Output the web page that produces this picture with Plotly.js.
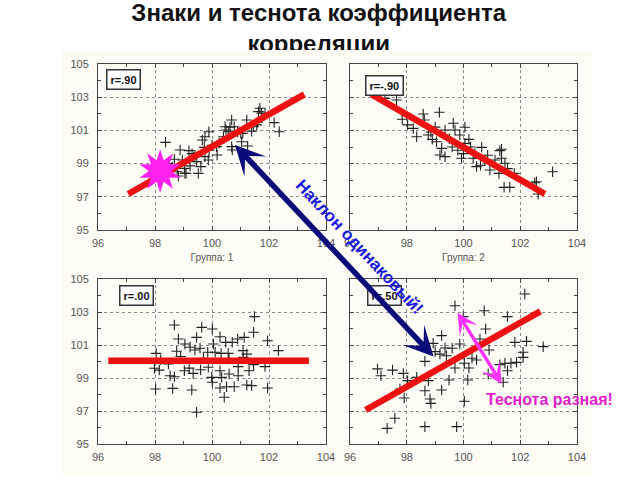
<!DOCTYPE html>
<html><head><meta charset="utf-8">
<script src="https://cdn.plot.ly/plotly-3.0.1.min.js"></script>
<style>
html,body{margin:0;padding:0;background:#fff}
#wrap{position:relative;width:640px;height:480px}
#chart{width:640px;height:480px}
#cut{position:absolute;left:200px;top:50px;width:240px;height:13px;background:#fcfcf5}
</style>
</head><body>
<div id="wrap"><div id="chart"></div><div id="cut"></div></div>
<script>
// ---- data ----
const titleText = 'Знаки и теснота коэффициента<br>корреляции';
const groupTitles = ['Группа: 1', 'Группа: 2'];
const rLabels = ['r=.90', 'r=-.90', 'r=.00', 'r=.50'];
const xTicks = [96, 98, 100, 102, 104];
const yTicks = [95, 97, 99, 101, 103, 105];

// panel 1: r = .90
const p1x = [98.37,98.88,99.19,98.68,98.96,99.36,99.46,99.23,99.03,98.82,99.05,99.52,99.61,99.75,99.87,99.73,99.66,99.75,99.89,100.16,100.25,100.18,100.46,100.57,100.69,100.78,100.69,100.71,101.04,101.01,101.25,101.22,101.45,101.63,101.74,102.18,102.36,98.18,100.40,100.63,101.08,101.39,101.57,101.86,101.68,100.49,99.09,98.78,99.40,100.00,100.90,101.60,98.60,99.90,98.45,99.30];
const p1y = [100.28,99.82,99.78,99.26,99.22,99.38,99.12,98.86,98.71,98.25,98.41,98.41,98.82,99.42,99.22,99.98,100.42,100.62,100.92,100.02,100.22,99.52,101.22,100.92,101.63,101.22,100.02,99.82,100.32,100.82,100.06,101.63,101.22,102.13,102.03,101.47,100.92,98.41,100.62,101.19,100.83,100.95,101.33,102.03,102.33,101.02,98.42,98.51,99.50,100.10,100.90,101.50,98.80,99.80,99.00,99.60];
// panel 2: r = -.90
const p2x = [97.23,97.64,97.84,98.03,98.23,98.35,98.58,98.62,99.15,98.76,98.90,98.85,99.05,99.23,99.17,99.35,99.35,99.50,99.64,99.70,99.87,99.93,99.80,100.05,100.19,100.25,100.34,100.46,100.60,100.64,100.75,100.85,100.93,101.11,101.28,101.34,101.25,101.46,101.55,101.79,101.43,101.63,102.51,102.63,103.14,99.60,100.00,100.40,99.00,100.05,101.34,102.57];
const p2y = [102.93,102.83,101.67,101.33,101.12,100.62,101.99,101.63,102.09,100.72,100.46,100.90,100.32,99.92,99.52,99.42,101.02,100.50,101.43,101.02,100.72,99.32,99.80,100.22,100.46,100.00,99.32,98.82,98.90,99.98,99.22,99.50,98.61,99.22,99.78,99.32,98.41,99.02,98.70,98.41,97.57,97.57,97.85,97.17,98.51,100.00,99.60,99.60,101.20,101.19,99.86,97.91];
// panel 3: r = .00
const p3x = [98.68,99.64,100.01,101.49,101.46,98.82,99.46,100.28,100.48,100.71,100.90,101.13,101.95,102.33,98.04,98.76,99.05,99.23,99.40,99.58,99.85,100.05,100.11,100.32,100.57,101.09,101.22,98.47,97.98,98.15,99.03,99.20,99.34,99.60,98.53,98.68,99.87,99.99,100.01,100.28,100.34,100.60,100.92,100.92,101.30,101.46,101.86,98.02,98.62,99.29,100.28,100.51,100.78,101.22,101.39,101.95,100.43,99.46,99.70,100.60,101.10,98.90,98.20];
const p3y = [102.21,102.07,101.97,102.72,101.77,101.36,101.46,101.50,101.16,101.16,101.36,101.46,101.26,100.66,100.49,100.62,101.06,100.86,100.70,100.80,100.56,101.06,100.56,100.49,100.49,100.66,100.45,99.85,99.59,99.48,99.44,99.60,99.28,99.50,99.14,99.08,99.65,99.04,98.74,99.44,99.04,99.24,99.69,99.14,99.44,99.81,99.69,98.33,98.37,98.27,98.39,98.47,98.47,98.58,98.54,98.39,97.83,96.92,100.20,100.15,100.25,100.30,100.10];
// panel 4: r = .50
const p4x = [102.16,99.70,100.73,101.55,99.99,100.78,99.23,98.93,99.35,99.87,100.58,101.81,102.22,102.81,102.10,102.10,98.64,99.17,99.40,99.70,100.03,100.19,100.46,101.28,101.46,101.67,101.87,101.55,96.97,97.50,97.09,97.88,98.03,98.35,98.76,99.49,100.15,100.87,101.40,97.76,98.64,99.23,97.91,98.82,98.85,100.03,97.58,97.31,98.64,99.76,99.00,100.90,99.60,100.30];
const p4y = [104.09,103.38,103.08,102.72,102.72,101.97,101.57,101.10,100.82,101.06,101.36,101.16,101.22,100.90,100.56,100.25,100.01,100.45,100.35,99.61,99.89,99.61,100.09,99.81,99.89,99.89,99.95,99.44,99.55,99.48,99.14,99.28,98.84,99.04,98.84,98.88,98.88,99.24,98.74,98.33,98.23,98.27,97.79,97.73,97.46,97.59,96.56,95.95,96.05,96.05,100.60,100.70,100.80,100.20];

// regression lines
const l1x = [97.06, 103.24], l1y = [97.17, 103.17];
const l2x = [96.76, 102.87], l2y = [103.17, 97.17];
const l3x = [96.36, 103.40], l3y = [100.05, 100.05];
const l4x = [96.55, 102.71], l4y = [97.06, 103.04];

// star burst in panel 1
const starX = [98.18, 98.18], starY = [98.55, 98.55], starAngle = [0, 36];

// ---- styles ----
const FONT = 'Liberation Sans, Arial, sans-serif';
const tickFont = {family: FONT, size: 11, color: '#555'};
const ptsMarker = {symbol: 'cross-thin', size: 7.5, color: '#222', line: {width: 1.1, color: '#222'}};
const lineStyle = {color: '#ee1111', width: 6.5};

function pts(x, y, xa, ya) {
  return {type: 'scatter', mode: 'markers', x, y, xaxis: xa, yaxis: ya, marker: ptsMarker, hoverinfo: 'skip'};
}
function reg(x, y, xa, ya) {
  return {type: 'scatter', mode: 'lines', x, y, xaxis: xa, yaxis: ya, line: lineStyle, hoverinfo: 'skip'};
}

const data = [
  pts(p1x, p1y, 'x', 'y'), reg(l1x, l1y, 'x', 'y'),
  {type: 'scatter', mode: 'markers', x: starX, y: starY, xaxis: 'x', yaxis: 'y',
   marker: {symbol: 'star', size: 31, color: '#ff22ee', angle: starAngle, line: {width: 0}}, hoverinfo: 'skip'},
  pts(p2x, p2y, 'x2', 'y2'), reg(l2x, l2y, 'x2', 'y2'),
  pts(p3x, p3y, 'x3', 'y3'), reg(l3x, l3y, 'x3', 'y3'),
  pts(p4x, p4y, 'x4', 'y4'), reg(l4x, l4y, 'x4', 'y4')
];

function xaxis(domain, anchor, title) {
  const a = {
    domain, anchor, range: [96, 104], tickvals: xTicks, ticktext: xTicks.map(String),
    ticks: 'inside', ticklen: 4, tickcolor: '#444', showline: true, linecolor: '#444', linewidth: 1,
    mirror: 'ticks', showgrid: true, gridcolor: '#8a8a8a', griddash: 'dot', gridwidth: 1,
    zeroline: false, tickfont: tickFont, ticklabelstandoff: 3, fixedrange: true,
    minor: {dtick: 1, tick0: 96, ticks: 'inside', ticklen: 3, tickcolor: '#444', showgrid: false}
  };
  if (title) a.title = {text: title, font: {family: FONT, size: 10, color: '#555'}, standoff: 5};
  return a;
}
function yaxis(domain, anchor, labels) {
  return {
    domain, anchor, range: [95, 105], tickvals: yTicks, ticktext: yTicks.map(String),
    ticks: 'inside', ticklen: 4, tickcolor: '#444', showline: true, linecolor: '#444', linewidth: 1,
    mirror: 'ticks', showgrid: true, gridcolor: '#8a8a8a', griddash: 'dot', gridwidth: 1,
    zeroline: false, tickfont: tickFont, showticklabels: labels, ticklabelstandoff: 6, fixedrange: true,
    minor: {dtick: 1, tick0: 95, ticks: 'inside', ticklen: 3, tickcolor: '#444', showgrid: false}
  };
}

const W = 640, H = 480;
const px = v => v / W, py = v => 1 - v / H;
const xL = [px(98), px(326)], xR = [px(350), px(577)];
const yT = [py(230), py(64)], yB = [py(444), py(279)];

function rBox(text, xref, yref, x, y) {
  return {text, xref: xref + ' domain', yref: yref + ' domain', x, y, xanchor: 'center', yanchor: 'middle',
    showarrow: false, font: {family: FONT, size: 11, color: '#111', weight: 700},
    bgcolor: '#ffffff', bordercolor: '#333', borderwidth: 1.5, borderpad: 3};
}

const layout = {
  width: W, height: H, margin: {l: 0, r: 0, t: 0, b: 0},
  paper_bgcolor: '#ffffff', plot_bgcolor: '#ffffff', showlegend: false,
  title: {text: titleText, font: {family: FONT, size: 24, color: '#111', weight: 700},
          x: 0.498, xanchor: 'center', xref: 'paper', y: 0.956, yanchor: 'top', yref: 'container'},
  xaxis: xaxis(xL, 'y', groupTitles[0]), yaxis: yaxis(yT, 'x', true),
  xaxis2: xaxis(xR, 'y2', groupTitles[1]), yaxis2: yaxis(yT, 'x2', false),
  xaxis3: xaxis(xL, 'y3'), yaxis3: yaxis(yB, 'x3', true),
  xaxis4: xaxis(xR, 'y4'), yaxis4: yaxis(yB, 'x4', false),
  shapes: [
    {type: 'rect', xref: 'paper', yref: 'paper', x0: px(62), x1: px(592), y0: py(475), y1: py(50),
     fillcolor: '#fcfcf5', line: {width: 0}, layer: 'below'}
  ],
  annotations: [
    rBox(rLabels[0], 'x', 'y', 0.113, 0.904),
    rBox(rLabels[1], 'x2', 'y2', 0.152, 0.873),
    rBox(rLabels[2], 'x3', 'y3', 0.17, 0.899),
    rBox(rLabels[3], 'x4', 'y4', 0.15, 0.897),
    // navy double arrow
    {text: '', xref: 'paper', yref: 'paper', x: px(235), y: py(145), ax: 200, ay: 213,
     showarrow: true, arrowside: 'end+start', arrowhead: 3, startarrowhead: 3,
     arrowwidth: 5.5, arrowsize: 0.9, startarrowsize: 0.9, arrowcolor: '#0a0a78', standoff: 0, startstandoff: 0},
    {text: 'Наклон одинаковый!', xref: 'paper', yref: 'paper', x: px(359), y: py(246.5),
     xanchor: 'center', yanchor: 'middle', showarrow: false,
     textangle: 46.7, font: {family: FONT, size: 17, color: '#1818e0', weight: 700}},
    // magenta double arrow
    {text: '', xref: 'paper', yref: 'paper', x: px(501.7), y: py(384), ax: -45, ay: -72.7,
     showarrow: true, arrowside: 'end+start', arrowhead: 3, startarrowhead: 3,
     arrowwidth: 3.5, arrowsize: 1, startarrowsize: 1, arrowcolor: '#ff33ff', standoff: 0, startstandoff: 0},
    {text: 'Теснота разная!', xref: 'paper', yref: 'paper', x: px(549), y: py(399),
     xanchor: 'center', yanchor: 'middle', showarrow: false,
     font: {family: FONT, size: 16, color: '#e020c8', weight: 700}}
  ]
};

Plotly.newPlot('chart', data, layout, {staticPlot: true, displayModeBar: false});
</script>
</body></html>
